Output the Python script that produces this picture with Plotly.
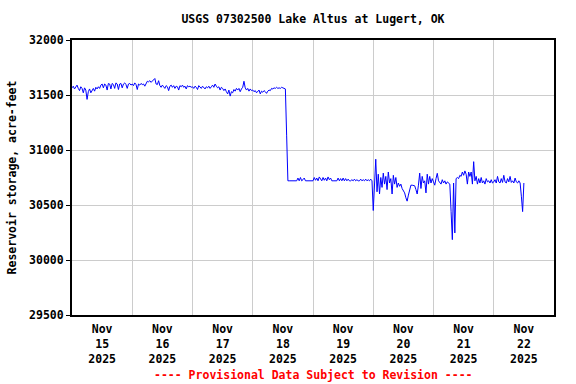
import pandas as pd
import plotly.graph_objects as go

# Half-hourly reservoir storage (acre-feet)
nov15 = [31565, 31580, 31555, 31570, 31590, 31560, 31540, 31575,
         31560, 31520, 31565, 31545, 31460, 31530, 31555, 31520,
         31545, 31560, 31535, 31570, 31555, 31575, 31560, 31590,
         31600, 31565, 31600, 31590, 31545, 31605, 31600, 31555,
         31605, 31595, 31560, 31610, 31600, 31550, 31600, 31605,
         31565, 31600, 31610, 31595, 31560, 31600, 31605, 31590]
nov16 = [31600, 31585, 31610, 31595, 31550, 31600, 31590, 31605,
         31595, 31600, 31580, 31600, 31625, 31620, 31630, 31615,
         31625, 31640, 31650, 31600, 31595, 31630, 31585, 31570,
         31590, 31575, 31560, 31585, 31575, 31540, 31580, 31590,
         31570, 31585, 31560, 31580, 31575, 31545, 31585, 31575,
         31590, 31570, 31580, 31555, 31585, 31575, 31580, 31570]
nov17 = [31575, 31560, 31580, 31570, 31550, 31585, 31575, 31560,
         31580, 31570, 31555, 31575, 31565, 31580, 31560, 31575,
         31590, 31570, 31600, 31580, 31565, 31575, 31545, 31570,
         31560, 31540, 31555, 31530, 31510, 31545, 31490, 31530,
         31520, 31550, 31535, 31560, 31545, 31560, 31530, 31555,
         31570, 31625, 31565, 31545, 31560, 31535, 31555, 31540]
nov18 = [31545, 31530, 31540, 31520, 31535, 31545, 31510, 31535,
         31525, 31540, 31530, 31515, 31535, 31545, 31540, 31560,
         31555, 31565, 31560, 31570, 31560, 31565, 31560, 31570,
         31565, 31560, 31555, 31135, 30720, 30720, 30720, 30720,
         30720, 30720, 30720, 30720, 30745, 30720, 30750, 30720,
         30730, 30745, 30720, 30720, 30720, 30720, 30720, 30720]
nov19 = [30720, 30750, 30725, 30745, 30720, 30755, 30730, 30720,
         30750, 30725, 30745, 30720, 30755, 30730, 30745, 30720,
         30720, 30720, 30720, 30720, 30745, 30720, 30740, 30720,
         30745, 30720, 30740, 30720, 30735, 30720, 30720, 30730,
         30720, 30735, 30720, 30730, 30720, 30720, 30735, 30720,
         30730, 30720, 30735, 30720, 30730, 30720, 30735, 30720]
nov20 = [30450, 30700, 30916, 30620, 30780, 30600, 30750, 30660,
         30790, 30690, 30760, 30640, 30800, 30700, 30740, 30600,
         30770, 30690, 30750, 30660, 30700, 30670, 30690, 30650,
         30630, 30610, 30566, 30535, 30590, 30650, 30680, 30680,
         30680, 30675, 30640, 30600, 30680, 30790, 30650, 30760,
         30700, 30720, 30610, 30780, 30690, 30760, 30700, 30740]
nov21 = [30710, 30680, 30740, 30788, 30720, 30700, 30690, 30730,
         30700, 30720, 30690, 30710, 30700, 30690, 30443, 30185,
         30700, 30246, 30740, 30750, 30740, 30770, 30760, 30800,
         30770, 30810, 30780, 30690, 30800, 30760, 30800, 30690,
         30894, 30720, 30760, 30690, 30740, 30700, 30750, 30700,
         30720, 30690, 30740, 30710, 30720, 30700, 30730, 30700]
nov22 = [30710, 30730, 30700, 30760, 30710, 30700, 30740, 30705,
         30770, 30710, 30700, 30740, 30710, 30760, 30705, 30720,
         30700, 30745, 30710, 30700, 30720, 30700, 30580, 30440,
         30700]

storage = nov15 + nov16 + nov17 + nov18 + nov19 + nov20 + nov21 + nov22
times = pd.date_range("2025-11-15 00:00", periods=len(storage), freq="30min")

tick_days = ["2025-11-15", "2025-11-16", "2025-11-17", "2025-11-18",
             "2025-11-19", "2025-11-20", "2025-11-21", "2025-11-22"]
tick_text = ["Nov<br>15<br>2025", "Nov<br>16<br>2025", "Nov<br>17<br>2025",
             "Nov<br>18<br>2025", "Nov<br>19<br>2025", "Nov<br>20<br>2025",
             "Nov<br>21<br>2025", "Nov<br>22<br>2025"]
y_ticks = [29500, 30000, 30500, 31000, 31500, 32000]

FONT = "DejaVu Sans Mono"
FS = 11.5

fig = go.Figure()
fig.add_trace(go.Scatter(x=times, y=storage, mode="lines",
                         line=dict(color="#0000ff", width=1),
                         hoverinfo="skip", showlegend=False))

fig.update_layout(
    width=576, height=384,
    margin=dict(l=72, r=22, t=40, b=69, autoexpand=False),
    paper_bgcolor="white", plot_bgcolor="white",
    font=dict(family=FONT, size=FS, color="black", weight="bold"),
    title=dict(text="USGS 07302500 Lake Altus at Lugert, OK",
               x=0.5, xref="paper", xanchor="center",
               y=1 - 19 / 384, yref="container", yanchor="middle",
               font=dict(family=FONT, size=FS, color="black", weight="bold")),
    showlegend=False,
)

fig.update_xaxes(
    range=["2025-11-15 00:00", "2025-11-23 00:00"],
    tickmode="array",
    tickvals=[pd.Timestamp(d) + pd.Timedelta(hours=12) for d in tick_days],
    ticktext=tick_text,
    ticks="", showgrid=False, zeroline=False,
    ticklabelstandoff=2,
    showline=True, linecolor="black", linewidth=2, mirror=True,
    tickfont=dict(family=FONT, size=FS, color="black", weight="bold"),
    minor=dict(tickmode="linear", tick0="2025-11-15", dtick=86400000,
               showgrid=True, gridcolor="#cccccc", gridwidth=1, ticks=""),
)

fig.update_yaxes(
    range=[29500, 32000],
    tickmode="array", tickvals=y_ticks, tickformat="d",
    ticks="outside", ticklen=4, tickcolor="black", tickwidth=1,
    showgrid=True, gridcolor="#cccccc", gridwidth=1, zeroline=False,
    showline=True, linecolor="black", linewidth=2, mirror=True,
    tickfont=dict(family=FONT, size=FS, color="black", weight="bold"),
    title=dict(text="Reservoir storage, acre-feet", standoff=10,
               font=dict(family=FONT, size=FS, color="black", weight="bold")),
)

fig.add_annotation(text="---- Provisional Data Subject to Revision ----",
                   xref="paper", yref="paper", x=0.5, y=-60 / 275,
                   xanchor="center", yanchor="middle", showarrow=False,
                   font=dict(family=FONT, size=FS, color="#ff0000", weight="bold"))

fig.write_html("out.html",
               config={"displayModeBar": False, "staticPlot": True},
               post_script="document.body.style.margin='0';"
                           "document.body.style.overflow='hidden';")
